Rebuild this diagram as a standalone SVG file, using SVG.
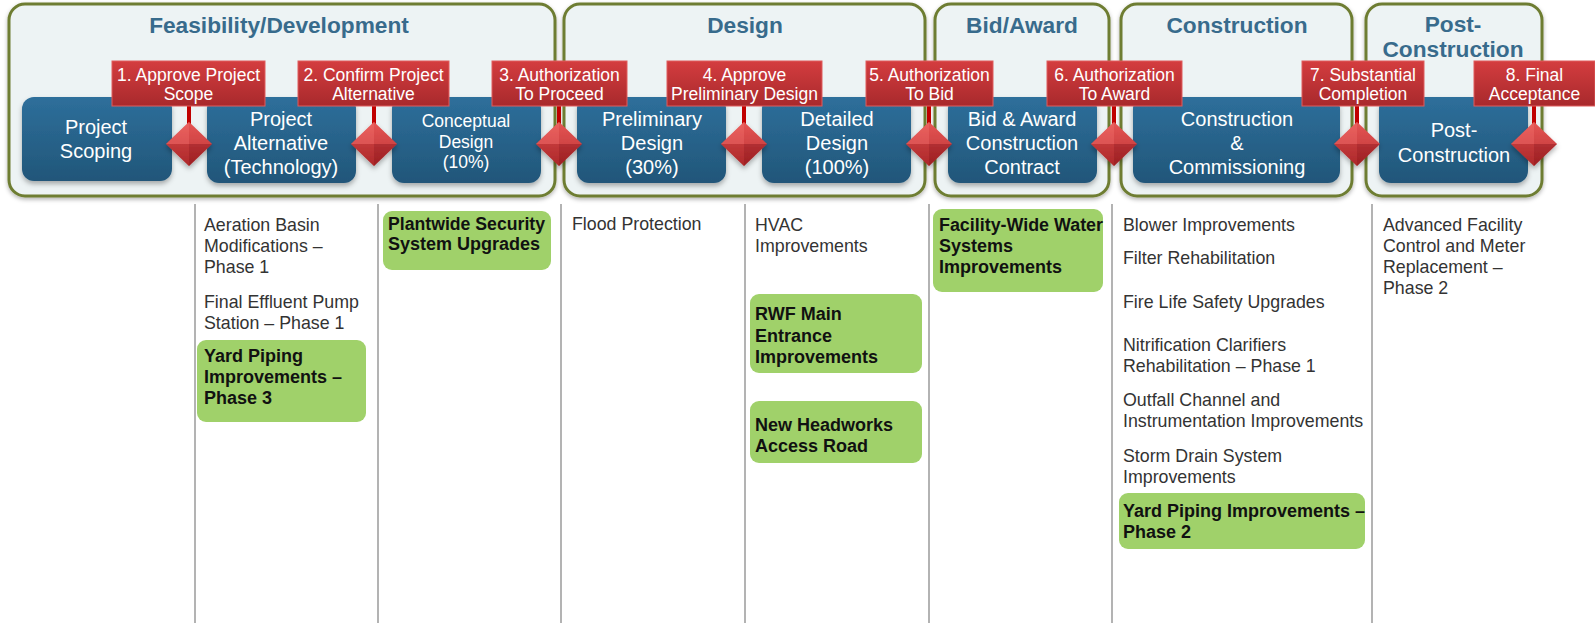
<svg xmlns="http://www.w3.org/2000/svg" width="1595" height="623" viewBox="0 0 1595 623">
<defs>
<linearGradient id="gBlue" x1="0" y1="0" x2="0" y2="1"><stop offset="0" stop-color="#2e6f9b"/><stop offset="1" stop-color="#215679"/></linearGradient>
<linearGradient id="gRed" x1="0" y1="0" x2="0" y2="1"><stop offset="0" stop-color="#d43d3f"/><stop offset="1" stop-color="#a8292c"/></linearGradient>
<linearGradient id="gDia" x1="0" y1="0" x2="0" y2="1"><stop offset="0" stop-color="#e85a58"/><stop offset="1" stop-color="#a82326"/></linearGradient>
<filter id="sh" x="-10%" y="-10%" width="120%" height="130%"><feDropShadow dx="0" dy="3" stdDeviation="2.5" flood-color="#000" flood-opacity="0.3"/></filter>
<filter id="sh2" x="-10%" y="-10%" width="120%" height="130%"><feDropShadow dx="0" dy="2" stdDeviation="2" flood-color="#000" flood-opacity="0.3"/></filter>
<g id="diamond">
<path d="M0 -22 L23 0 L0 22 L-23 0 Z" fill="url(#gDia)"/>
<path d="M0 -22 L-23 0 L0 0 Z" fill="#ec6664" opacity="0.55"/>
<path d="M0 -22 L23 0 L0 0 Z" fill="#e04e4c" opacity="0.35"/>
<path d="M-23 0 L0 22 L0 0 Z" fill="#b83032" opacity="0.35"/>
<path d="M23 0 L0 22 L0 0 Z" fill="#8e1a1d" opacity="0.4"/>
</g>
</defs>
<style>
.phase{fill:#edf3f4;stroke:#6e7d32;stroke-width:3}
.ptitle{font-family:"Liberation Sans",Arial,sans-serif;font-weight:bold;font-size:22.7px;fill:#386b8c;text-anchor:middle}
.node{fill:url(#gBlue)}
.ntext{font-family:"Liberation Sans",Arial,sans-serif;font-size:20px;fill:#fff;text-anchor:middle}
.ntext2{font-family:"Liberation Sans",Arial,sans-serif;font-size:17.5px;fill:#fff;text-anchor:middle}
.lbl{fill:url(#gRed);stroke:#e05c5c;stroke-width:1}
.ltext{font-family:"Liberation Sans",Arial,sans-serif;font-size:17.5px;fill:#fff;text-anchor:middle}
.stem{stroke:#c00000;stroke-width:4}
.col{stroke:#9a9a9a;stroke-width:1.5}
.item{font-family:"Liberation Sans",Arial,sans-serif;font-size:17.8px;fill:#333}
.gbox{fill:#a0d16a}
.gtext{font-family:"Liberation Sans",Arial,sans-serif;font-size:18px;font-weight:bold;fill:#111}
</style>
<rect width="1595" height="623" fill="#fff"/>

<g id="phases">
<g id="phase-feasibility"><rect class="phase" x="9" y="4" width="546" height="192" rx="16" filter="url(#sh2)"/><text class="ptitle" x="279" y="33">Feasibility/Development</text></g>
<g id="phase-design"><rect class="phase" x="564" y="4" width="361" height="192" rx="16" filter="url(#sh2)"/><text class="ptitle" x="745" y="33">Design</text></g>
<g id="phase-bid"><rect class="phase" x="935" y="4" width="174" height="192" rx="16" filter="url(#sh2)"/><text class="ptitle" x="1022" y="33">Bid/Award</text></g>
<g id="phase-construction"><rect class="phase" x="1121" y="4" width="231" height="192" rx="16" filter="url(#sh2)"/><text class="ptitle" x="1237" y="33">Construction</text></g>
<g id="phase-post"><rect class="phase" x="1366" y="4" width="176" height="192" rx="16" filter="url(#sh2)"/><text class="ptitle" x="1453" y="32">Post-</text><text class="ptitle" x="1453" y="57">Construction</text></g>
</g>

<g id="n1"><rect class="node" x="22" y="97" width="150" height="84" rx="12" filter="url(#sh)"/><text class="ntext" x="96" y="134">Project</text><text class="ntext" x="96" y="158">Scoping</text></g>
<g id="n2"><rect class="node" x="207" y="97" width="149" height="86" rx="12" filter="url(#sh)"/><text class="ntext" x="281" y="126">Project</text><text class="ntext" x="281" y="150">Alternative</text><text class="ntext" x="281" y="174">(Technology)</text></g>
<g id="n3"><rect class="node" x="392" y="97" width="149" height="86" rx="12" filter="url(#sh)"/><text class="ntext2" x="466" y="127">Conceptual</text><text class="ntext2" x="466" y="148">Design</text><text class="ntext2" x="466" y="168">(10%)</text></g>
<g id="n4"><rect class="node" x="577" y="97" width="149" height="86" rx="12" filter="url(#sh)"/><text class="ntext" x="652" y="126">Preliminary</text><text class="ntext" x="652" y="150">Design</text><text class="ntext" x="652" y="174">(30%)</text></g>
<g id="n5"><rect class="node" x="762" y="97" width="149" height="86" rx="12" filter="url(#sh)"/><text class="ntext" x="837" y="126">Detailed</text><text class="ntext" x="837" y="150">Design</text><text class="ntext" x="837" y="174">(100%)</text></g>
<g id="n6"><rect class="node" x="948" y="97" width="149" height="86" rx="12" filter="url(#sh)"/><text class="ntext" x="1022" y="126">Bid &amp; Award</text><text class="ntext" x="1022" y="150">Construction</text><text class="ntext" x="1022" y="174">Contract</text></g>
<g id="n7"><rect class="node" x="1133" y="97" width="207" height="86" rx="12" filter="url(#sh)"/><text class="ntext" x="1237" y="126">Construction</text><text class="ntext" x="1237" y="150">&amp;</text><text class="ntext" x="1237" y="174">Commissioning</text></g>
<g id="n8"><rect class="node" x="1379" y="97" width="149" height="86" rx="12" filter="url(#sh)"/><text class="ntext" x="1454" y="137">Post-</text><text class="ntext" x="1454" y="162">Construction</text></g>

<g id="connectors">
<line class="stem" x1="189" y1="105" x2="189" y2="124"/>
<line class="stem" x1="374" y1="105" x2="374" y2="124"/>
<line class="stem" x1="559" y1="105" x2="559" y2="124"/>
<line class="stem" x1="744" y1="105" x2="744" y2="124"/>
<line class="stem" x1="929" y1="105" x2="929" y2="124"/>
<line class="stem" x1="1114" y1="105" x2="1114" y2="124"/>
<line class="stem" x1="1357" y1="105" x2="1357" y2="124"/>
<line class="stem" x1="1534" y1="105" x2="1534" y2="124"/>
</g>

<g id="m1"><use href="#diamond" x="189" y="144" filter="url(#sh)"/><rect class="lbl" x="112" y="61" width="153" height="45"/><text class="ltext" x="188.5" y="81">1. Approve Project</text><text class="ltext" x="188.5" y="100">Scope</text></g>
<g id="m2"><use href="#diamond" x="374" y="144" filter="url(#sh)"/><rect class="lbl" x="298" y="61" width="151" height="45"/><text class="ltext" x="373.5" y="81">2. Confirm Project</text><text class="ltext" x="373.5" y="100">Alternative</text></g>
<g id="m3"><use href="#diamond" x="559" y="144" filter="url(#sh)"/><rect class="lbl" x="492" y="61" width="135" height="45"/><text class="ltext" x="559.5" y="81">3. Authorization</text><text class="ltext" x="559.5" y="100">To Proceed</text></g>
<g id="m4"><use href="#diamond" x="744" y="144" filter="url(#sh)"/><rect class="lbl" x="667" y="61" width="155" height="45"/><text class="ltext" x="744.5" y="81">4. Approve</text><text class="ltext" x="744.5" y="100">Preliminary Design</text></g>
<g id="m5"><use href="#diamond" x="929" y="144" filter="url(#sh)"/><rect class="lbl" x="866" y="61" width="127" height="45"/><text class="ltext" x="929.5" y="81">5. Authorization</text><text class="ltext" x="929.5" y="100">To Bid</text></g>
<g id="m6"><use href="#diamond" x="1114" y="144" filter="url(#sh)"/><rect class="lbl" x="1047" y="61" width="135" height="45"/><text class="ltext" x="1114.5" y="81">6. Authorization</text><text class="ltext" x="1114.5" y="100">To Award</text></g>
<g id="m7"><use href="#diamond" x="1357" y="144" filter="url(#sh)"/><rect class="lbl" x="1302" y="61" width="122" height="45"/><text class="ltext" x="1363" y="81">7. Substantial</text><text class="ltext" x="1363" y="100">Completion</text></g>
<g id="m8"><use href="#diamond" x="1534" y="144" filter="url(#sh)"/><rect class="lbl" x="1474" y="61" width="121" height="45"/><text class="ltext" x="1534.5" y="81">8. Final</text><text class="ltext" x="1534.5" y="100">Acceptance</text></g>

<g id="columns">
<line class="col" x1="195" y1="204" x2="195" y2="623"/>
<line class="col" x1="378" y1="204" x2="378" y2="623"/>
<line class="col" x1="561" y1="204" x2="561" y2="623"/>
<line class="col" x1="745" y1="204" x2="745" y2="623"/>
<line class="col" x1="929" y1="204" x2="929" y2="623"/>
<line class="col" x1="1112" y1="204" x2="1112" y2="623"/>
<line class="col" x1="1372" y1="204" x2="1372" y2="623"/>
</g>

<g id="col-feasibility-a">
<text class="item" x="204" y="231">Aeration Basin</text>
<text class="item" x="204" y="252">Modifications –</text>
<text class="item" x="204" y="273">Phase 1</text>
<text class="item" x="204" y="308">Final Effluent Pump</text>
<text class="item" x="204" y="329">Station – Phase 1</text>
<rect class="gbox" x="197" y="340" width="169" height="82" rx="9"/>
<text class="gtext" x="204" y="362">Yard Piping</text>
<text class="gtext" x="204" y="383">Improvements –</text>
<text class="gtext" x="204" y="404">Phase 3</text>
</g>
<g id="col-feasibility-b">
<rect class="gbox" x="383" y="211" width="168" height="59" rx="9"/>
<text class="gtext" x="388" y="230" textLength="157" lengthAdjust="spacingAndGlyphs">Plantwide Security</text>
<text class="gtext" x="388" y="250">System Upgrades</text>
</g>
<g id="col-design-a">
<text class="item" x="572" y="230">Flood Protection</text>
</g>
<g id="col-design-b">
<text class="item" x="755" y="231">HVAC</text>
<text class="item" x="755" y="252">Improvements</text>
<rect class="gbox" x="750" y="294" width="172" height="79" rx="9"/>
<text class="gtext" x="755" y="320">RWF Main</text>
<text class="gtext" x="755" y="342">Entrance</text>
<text class="gtext" x="755" y="363">Improvements</text>
<rect class="gbox" x="750" y="401" width="172" height="62" rx="9"/>
<text class="gtext" x="755" y="431">New Headworks</text>
<text class="gtext" x="755" y="452">Access Road</text>
</g>
<g id="col-bid">
<rect class="gbox" x="933" y="209" width="170" height="83" rx="9"/>
<text class="gtext" x="939" y="231" textLength="164" lengthAdjust="spacingAndGlyphs">Facility-Wide Water</text>
<text class="gtext" x="939" y="252">Systems</text>
<text class="gtext" x="939" y="273">Improvements</text>
</g>
<g id="col-construction">
<text class="item" x="1123" y="231">Blower Improvements</text>
<text class="item" x="1123" y="264">Filter Rehabilitation</text>
<text class="item" x="1123" y="308">Fire Life Safety Upgrades</text>
<text class="item" x="1123" y="351">Nitrification Clarifiers</text>
<text class="item" x="1123" y="372">Rehabilitation – Phase 1</text>
<text class="item" x="1123" y="406">Outfall Channel and</text>
<text class="item" x="1123" y="427">Instrumentation Improvements</text>
<text class="item" x="1123" y="462">Storm Drain System</text>
<text class="item" x="1123" y="483">Improvements</text>
<rect class="gbox" x="1119" y="493" width="246" height="56" rx="9"/>
<text class="gtext" x="1123" y="517">Yard Piping Improvements –</text>
<text class="gtext" x="1123" y="538">Phase 2</text>
</g>
<g id="col-post">
<text class="item" x="1383" y="231">Advanced Facility</text>
<text class="item" x="1383" y="252">Control and Meter</text>
<text class="item" x="1383" y="273">Replacement –</text>
<text class="item" x="1383" y="294">Phase 2</text>
</g>
</svg>
